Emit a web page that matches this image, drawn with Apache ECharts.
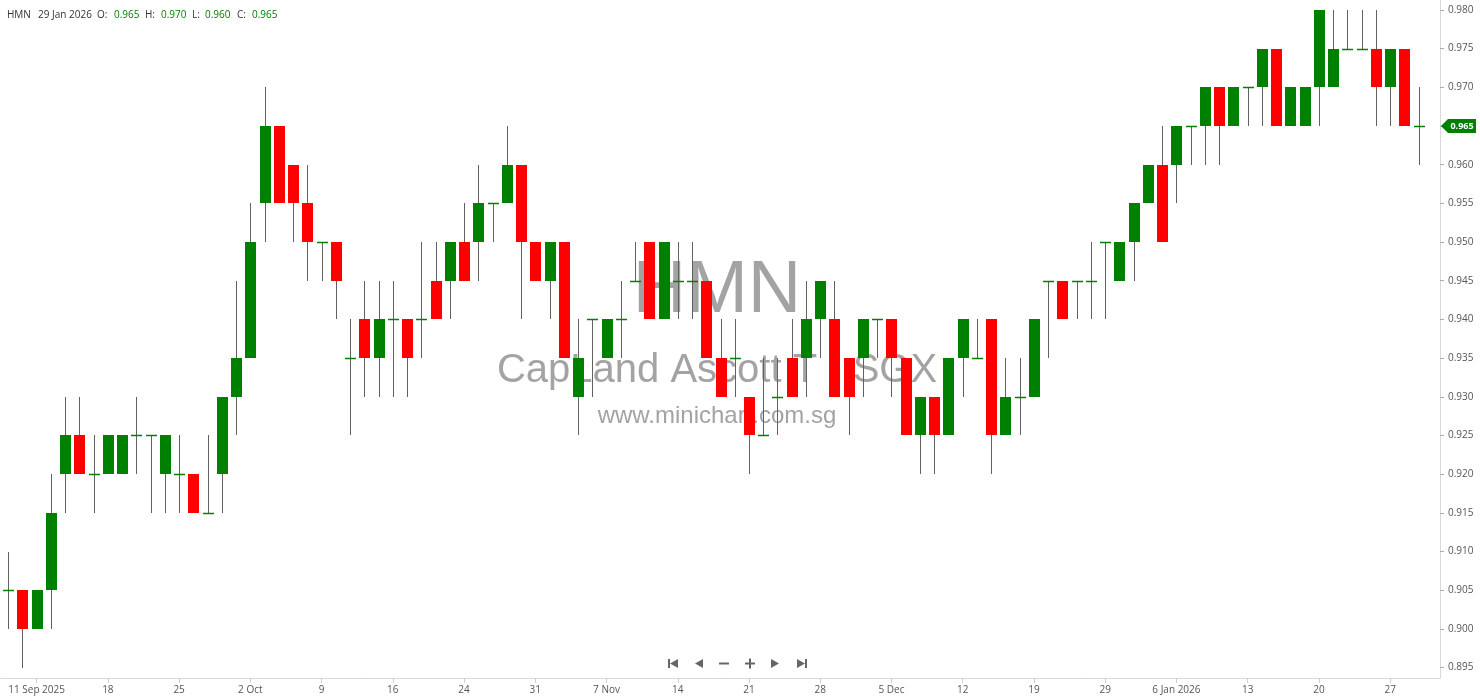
<!DOCTYPE html>
<html><head><meta charset="utf-8">
<script src="https://cdn.jsdelivr.net/npm/echarts@6/dist/echarts.min.js"></script>
<style>html,body{margin:0;padding:0;background:#fff}#c{width:1480px;height:699px}</style>
</head><body><div id="c"></div>
<script>
const dates = [
'2025-09-09','2025-09-10','2025-09-11','2025-09-12','2025-09-15','2025-09-16','2025-09-17','2025-09-18','2025-09-19','2025-09-22',
'2025-09-23','2025-09-24','2025-09-25','2025-09-26','2025-09-29','2025-09-30','2025-10-01','2025-10-02','2025-10-03','2025-10-06',
'2025-10-07','2025-10-08','2025-10-09','2025-10-10','2025-10-13','2025-10-14','2025-10-15','2025-10-16','2025-10-17','2025-10-21',
'2025-10-22','2025-10-23','2025-10-24','2025-10-27','2025-10-28','2025-10-29','2025-10-30','2025-10-31','2025-11-03','2025-11-04',
'2025-11-05','2025-11-06','2025-11-07','2025-11-10','2025-11-11','2025-11-12','2025-11-13','2025-11-14','2025-11-17','2025-11-18',
'2025-11-19','2025-11-20','2025-11-21','2025-11-24','2025-11-25','2025-11-26','2025-11-27','2025-11-28','2025-12-01','2025-12-02',
'2025-12-03','2025-12-04','2025-12-05','2025-12-08','2025-12-09','2025-12-10','2025-12-11','2025-12-12','2025-12-15','2025-12-16',
'2025-12-17','2025-12-18','2025-12-19','2025-12-22','2025-12-23','2025-12-24','2025-12-26','2025-12-29','2025-12-30','2025-12-31',
'2026-01-02','2026-01-05','2026-01-06','2026-01-07','2026-01-08','2026-01-09','2026-01-12','2026-01-13','2026-01-14','2026-01-15',
'2026-01-16','2026-01-19','2026-01-20','2026-01-21','2026-01-22','2026-01-23','2026-01-26','2026-01-27','2026-01-28','2026-01-29'];

const open = [
.905,.905,.900,.905,.920,.925,.920,.920,.920,.925,
.925,.920,.920,.920,.915,.920,.930,.935,.955,.965,
.960,.955,.950,.950,.935,.940,.935,.940,.940,.940,
.945,.945,.950,.950,.955,.955,.960,.950,.945,.950,
.930,.940,.935,.940,.945,.950,.940,.945,.945,.945,
.935,.935,.930,.925,.930,.935,.935,.940,.940,.935,
.935,.940,.940,.935,.925,.930,.925,.935,.935,.940,
.925,.930,.930,.945,.945,.945,.945,.950,.945,.950,
.955,.960,.960,.965,.965,.970,.965,.970,.970,.975,
.965,.965,.970,.970,.975,.975,.975,.970,.975,.965];
const high = [
.910,.905,.905,.920,.930,.930,.925,.925,.925,.930,
.925,.925,.925,.920,.925,.930,.945,.955,.970,.965,
.960,.960,.950,.950,.940,.945,.945,.945,.940,.950,
.950,.950,.955,.960,.955,.965,.960,.950,.950,.950,
.940,.940,.940,.945,.950,.950,.950,.950,.950,.945,
.940,.940,.930,.935,.935,.940,.945,.945,.945,.935,
.940,.940,.940,.935,.930,.930,.935,.940,.940,.940,
.935,.935,.940,.945,.945,.945,.950,.950,.950,.955,
.960,.965,.965,.965,.970,.970,.970,.970,.975,.975,
.970,.970,.980,.980,.980,.980,.980,.975,.975,.970];
const low = [
.900,.895,.900,.900,.915,.920,.915,.920,.920,.920,
.915,.915,.915,.915,.915,.915,.925,.935,.950,.955,
.950,.945,.945,.940,.925,.930,.930,.930,.930,.935,
.940,.940,.945,.945,.950,.955,.940,.945,.940,.935,
.925,.930,.935,.935,.945,.940,.940,.940,.940,.935,
.930,.930,.920,.925,.925,.930,.930,.935,.930,.925,
.930,.935,.930,.925,.920,.920,.925,.930,.935,.920,
.925,.925,.930,.935,.940,.940,.940,.940,.945,.945,
.955,.950,.955,.960,.960,.960,.965,.965,.965,.965,
.965,.965,.965,.970,.975,.975,.965,.965,.965,.960];
const close = [
.905,.900,.905,.915,.925,.920,.920,.925,.925,.925,
.925,.925,.920,.915,.915,.930,.935,.950,.965,.955,
.955,.950,.950,.945,.935,.935,.940,.940,.935,.940,
.940,.950,.945,.955,.955,.960,.950,.945,.950,.935,
.935,.940,.940,.940,.945,.940,.950,.945,.945,.935,
.930,.935,.925,.925,.930,.930,.940,.945,.930,.930,
.940,.940,.935,.925,.930,.925,.935,.940,.935,.925,
.930,.930,.940,.945,.940,.945,.945,.950,.950,.955,
.960,.950,.965,.965,.970,.965,.970,.970,.975,.965,
.970,.970,.980,.975,.975,.975,.970,.975,.965,.965];

const tickDates = ['2025-09-11','2025-09-18','2025-09-25','2025-10-02','2025-10-09','2025-10-16','2025-10-24','2025-10-31','2025-11-07','2025-11-14',
'2025-11-21','2025-11-28','2025-12-05','2025-12-12','2025-12-19','2025-12-29','2026-01-06','2026-01-13','2026-01-20','2026-01-27'];
const tickLabels = ['11 Sep 2025','18','25','2 Oct','9','16','24','31','7 Nov','14',
'21','28','5 Dec','12','19','29','6 Jan 2026','13','20','27'];
const yTicks = [0.895,0.900,0.905,0.910,0.915,0.920,0.925,0.930,0.935,0.940,0.945,0.950,0.955,0.960,0.965,0.970,0.975,0.980];

const symbolName = 'HMN';
const fullName = 'CapLand Ascott T - SGX';
const site = 'www.minichart.com.sg';
const headerDate = '29 Jan 2026';

const FONT = '"Open Sans", sans-serif';
const GREEN = '#008000', RED = '#ff0000', WICK = '#616161';

const chart = echarts.init(document.getElementById('c'), null, {renderer: 'canvas'});
const xData = dates.concat(['']);
const seriesData = dates.map((d, i) => [i, open[i], high[i], low[i], close[i]]);
const tickMap = {};
tickDates.forEach((d, i) => { tickMap[d] = tickLabels[i]; });

function renderItem(params, api) {
  const i = api.value(0), o = api.value(1), h = api.value(2), l = api.value(3), c = api.value(4);
  const pH = api.coord([i, h]), pL = api.coord([i, l]), pO = api.coord([i, o]), pC = api.coord([i, c]);
  const bw = Math.round(api.size([1, 0])[0] * 0.77);
  const cx = Math.round(pH[0]);
  const left = cx - Math.floor(bw / 2);
  const children = [{
    type: 'line',
    shape: {x1: cx + 0.5, y1: Math.round(pH[1]), x2: cx + 0.5, y2: Math.round(pL[1])},
    style: {stroke: WICK, lineWidth: 1}
  }];
  if (Math.abs(c - o) < 1e-9) {
    const yy = Math.round(pO[1]) + 0.5;
    children.push({type: 'line', shape: {x1: left, y1: yy, x2: left + bw, y2: yy}, style: {stroke: GREEN, lineWidth: 1.5}});
  } else {
    const y1 = Math.round(Math.min(pO[1], pC[1]));
    const y2 = Math.round(Math.max(pO[1], pC[1]));
    children.push({type: 'rect', shape: {x: left, y: y1, width: bw, height: y2 - y1},
      style: {fill: c > o ? GREEN : RED, stroke: null}});
  }
  return {type: 'group', children};
}

const tickFn = (idx, val) => Object.prototype.hasOwnProperty.call(tickMap, val);

chart.setOption({
  animation: false,
  backgroundColor: '#ffffff',
  grid: {left: 1, right: 40, top: 0, bottom: 21},
  xAxis: {
    type: 'category', data: xData, boundaryGap: true,
    axisLine: {show: true, lineStyle: {color: '#d9d9d9'}},
    axisTick: {show: true, alignWithLabel: true, interval: tickFn, length: 5, lineStyle: {color: '#d0d0d0'}},
    axisLabel: {interval: tickFn, formatter: v => tickMap[v] || '', color: '#555', fontSize: 10, fontFamily: FONT, margin: 7},
    splitLine: {show: false}
  },
  yAxis: {
    type: 'value', position: 'right', min: 0.89366, max: 0.98128,
    axisLine: {show: true, lineStyle: {color: '#d9d9d9'}},
    axisTick: {show: true, length: 4, customValues: yTicks, lineStyle: {color: '#aaaaaa'}},
    axisLabel: {customValues: yTicks, formatter: v => Number(v).toFixed(3), color: '#555', fontSize: 10, fontFamily: FONT, margin: 8},
    splitLine: {show: false}
  },
  series: [{type: 'custom', data: seriesData, encode: {x: 0, y: [1, 2, 3, 4]}, renderItem: renderItem, clip: true, z: 2}]
});

const last = dates.length - 1;
const py = chart.convertToPixel({yAxisIndex: 0}, close[last]);
const hdr = (x, t, col) => ({type: 'text', x: x, y: 15, z: 10,
  style: {text: t, fill: col, font: '10px ' + FONT, textAlign: 'left', textVerticalAlign: 'middle'}});
const wm = (x, y, t, size) => ({type: 'text', x: x, y: y, z: 0, silent: true,
  style: {text: t, fill: '#a3a3a3', font: size + 'px "Liberation Sans", Arial, sans-serif', textAlign: 'center', textVerticalAlign: 'middle'}});
const NAV = '#666666';
const tri = (pts) => ({type: 'polygon', z: 10, shape: {points: pts}, style: {fill: NAV}});
const bar = (x, y, w, h) => ({type: 'rect', z: 10, shape: {x: x, y: y, width: w, height: h}, style: {fill: NAV}});

chart.setOption({
  graphic: [
    wm(717, 292, symbolName, 74),
    wm(717, 371, fullName, 40),
    wm(717, 416, site, 24),
    hdr(7, symbolName, '#333'),
    hdr(38, headerDate, '#333'),
    hdr(97, 'O:', '#333'), hdr(114, open[last].toFixed(3), GREEN),
    hdr(145, 'H:', '#333'), hdr(161, high[last].toFixed(3), GREEN),
    hdr(192, 'L:', '#333'), hdr(205, low[last].toFixed(3), GREEN),
    hdr(237, 'C:', '#333'), hdr(252, close[last].toFixed(3), GREEN),
    bar(668, 659, 2, 9), tri([[670, 663.5], [678, 659], [678, 668]]),
    tri([[695, 663.5], [703, 659], [703, 668]]),
    bar(719, 662.5, 10, 2),
    bar(745, 662.5, 10, 2), bar(749, 658.5, 2, 10),
    tri([[779, 663.5], [771, 659], [771, 668]]),
    tri([[805, 663.5], [797, 659], [797, 668]]), bar(805, 659, 2, 9),
    {type: 'polygon', z: 20, shape: {points: [[1441, py], [1448, py - 7], [1476, py - 7], [1476, py + 7], [1448, py + 7]]}, style: {fill: GREEN}},
    {type: 'text', z: 21, x: 1462, y: py, style: {text: close[last].toFixed(3), fill: '#fff', font: 'bold 9px ' + FONT, textAlign: 'center', textVerticalAlign: 'middle'}}
  ]
});
</script>
</body></html>
